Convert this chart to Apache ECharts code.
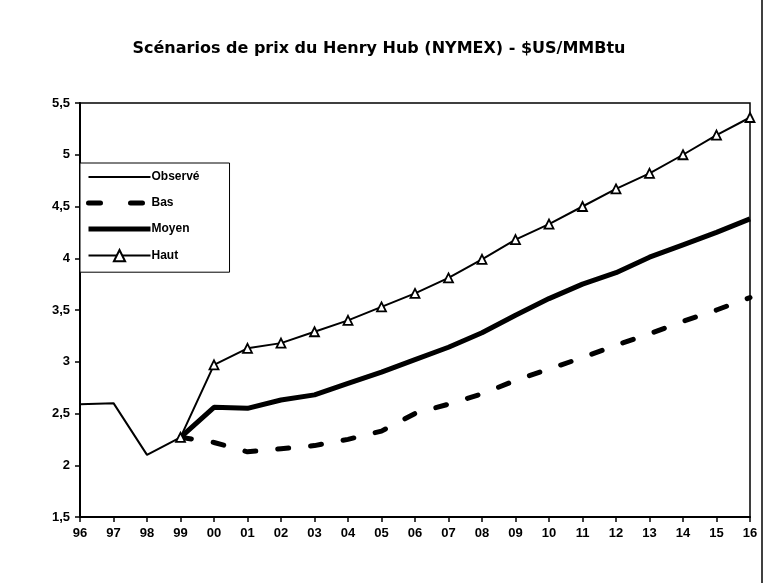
<!DOCTYPE html>
<html>
<head>
<meta charset="utf-8">
<script src="https://cdn.jsdelivr.net/npm/echarts@6/dist/echarts.min.js"></script>
<style>
  html, body { margin: 0; padding: 0; background: #fff; }
  #chart { width: 777px; height: 583px; }
</style>
</head>
<body>
<div id="chart"></div>
<script>
// années (axe X)
var years = ['96','97','98','99','00','01','02','03','04','05','06','07','08','09','10','11','12','13','14','15','16'];

// séries
var observe = [2.59, 2.60, 2.10, 2.27, null, null, null, null, null, null, null, null, null, null, null, null, null, null, null, null, null];
var bas     = [null, null, null, 2.27, 2.22, 2.13, 2.16, 2.19, 2.25, 2.33, 2.50, 2.59, 2.69, 2.82, 2.93, 3.04, 3.16, 3.27, 3.39, 3.50, 3.62];
var moyen   = [null, null, null, 2.27, 2.56, 2.55, 2.63, 2.68, 2.79, 2.90, 3.02, 3.14, 3.28, 3.45, 3.61, 3.75, 3.86, 4.01, 4.13, 4.25, 4.38];
var haut    = [null, null, null, 2.27, 2.97, 3.13, 3.18, 3.29, 3.40, 3.53, 3.66, 3.81, 3.99, 4.18, 4.33, 4.50, 4.67, 4.82, 5.00, 5.19, 5.36];

var yMin = 1.5, yMax = 5.5, yStep = 0.5;

var chart = echarts.init(document.getElementById('chart'));
var font = '"Liberation Sans", Arial, sans-serif';
var hide = { opacity: 0 };  // pas de symbole dans la légende

var option = {
  backgroundColor: '#fff',
  animation: false,
  title: {
    text: 'Scénarios de prix du Henry Hub (NYMEX) - $US/MMBtu',
    left: 374,
    top: 36,
    textAlign: 'center',
    textStyle: { fontFamily: '"DejaVu Sans", sans-serif', fontSize: 16, fontWeight: 'bold', color: '#000' }
  },
  grid: {
    left: 80, right: 27, top: 103, bottom: 66,
    show: true,
    borderColor: '#000',
    borderWidth: 1.5
  },
  legend: {
    orient: 'vertical',
    left: 80, top: 163,
    data: [
      { name: 'Observé', itemStyle: hide },
      { name: 'Bas', itemStyle: hide, lineStyle: { width: 5, type: [12, 30] } },
      { name: 'Moyen', itemStyle: hide, lineStyle: { width: 5 } },
      { name: 'Haut' }
    ],
    itemWidth: 62,
    itemHeight: 14,
    itemGap: 14,
    padding: [8, 30, 10, 6],
    borderColor: '#000',
    borderWidth: 1,
    backgroundColor: '#fff',
    textStyle: { fontFamily: font, fontSize: 12, fontWeight: 'bold', color: '#000', padding: [0, 0, 0, -4] }
  },
  xAxis: {
    type: 'category',
    data: years,
    boundaryGap: false,
    axisLine: { lineStyle: { color: '#000', width: 2 } },
    axisTick: { show: true, alignWithLabel: true, length: 5, lineStyle: { color: '#000', width: 1.5 } },
    axisLabel: { color: '#000', fontFamily: font, fontSize: 13, fontWeight: 'bold', margin: 10, interval: 0 }
  },
  yAxis: {
    type: 'value',
    min: yMin, max: yMax, interval: yStep,
    splitLine: { show: false },
    axisLine: { show: true, lineStyle: { color: '#000', width: 2 } },
    axisTick: { show: true, length: 5, lineStyle: { color: '#000', width: 1.5 } },
    axisLabel: {
      color: '#000', fontFamily: font, fontSize: 13, fontWeight: 'bold', margin: 10,
      formatter: function (v) { return String(v).replace('.', ','); }
    }
  },
  series: [
    {
      name: 'Observé', type: 'line', data: observe,
      symbol: 'none',
      lineStyle: { color: '#000', width: 2 },
      itemStyle: { color: '#000' }
    },
    {
      name: 'Bas', type: 'line', data: bas,
      symbol: 'none',
      lineStyle: { color: '#000', width: 5, type: [11, 22], cap: 'round' },
      itemStyle: { color: '#000' }
    },
    {
      name: 'Moyen', type: 'line', data: moyen,
      symbol: 'none',
      lineStyle: { color: '#000', width: 5 },
      itemStyle: { color: '#000' }
    },
    {
      name: 'Haut', type: 'line', data: haut,
      symbol: 'triangle', symbolSize: 9, showSymbol: true,
      lineStyle: { color: '#000', width: 2 },
      itemStyle: { color: '#fff', borderColor: '#000', borderWidth: 1.8 }
    }
  ],
  graphic: [
    { type: 'line', shape: { x1: 762, y1: 0, x2: 762, y2: 583 }, style: { stroke: '#000', lineWidth: 1.5 } }
  ]
};

chart.setOption(option);
</script>
</body>
</html>
